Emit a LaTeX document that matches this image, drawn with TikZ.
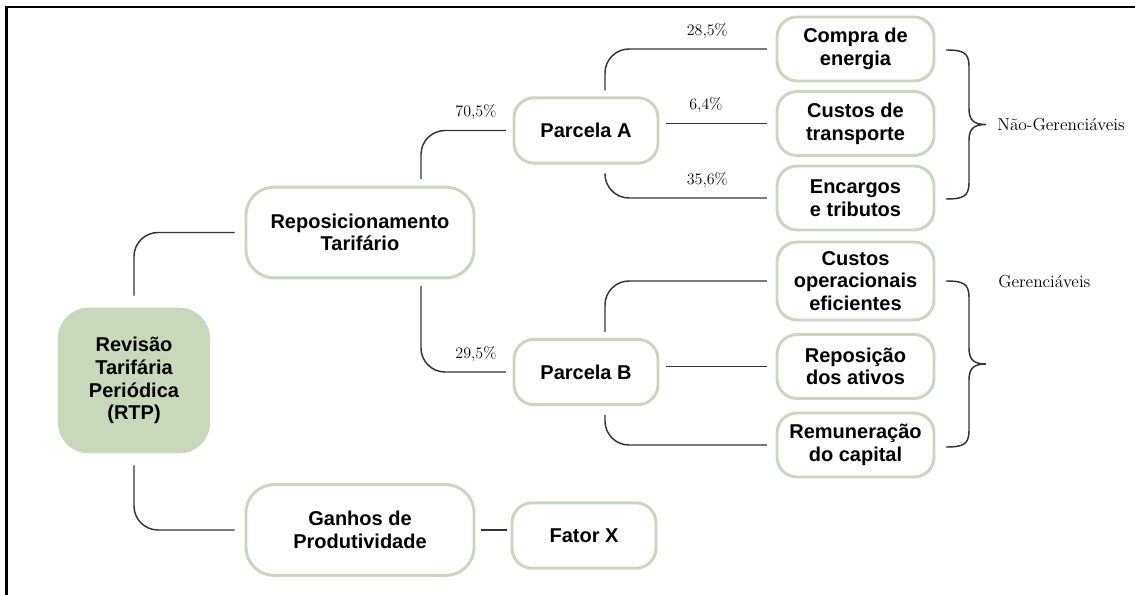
\documentclass[tikz,border=0pt]{standalone}
\usepackage{fontspec}
\newfontfamily\boxfont{Liberation Sans}
\usepackage{tikz}
\usetikzlibrary{calc}
\definecolor{boxgreen}{HTML}{C8D8BA}
\definecolor{linegray}{HTML}{333333}

\begin{document}
\begin{tikzpicture}[x=0.75pt,y=-0.75pt,
	box/.style={draw=boxgreen,line width=2.2pt,rounded corners=15pt,align=center,inner sep=2pt,
		font=\boxfont\bfseries\fontsize{15}{17}\selectfont},
	bigbox/.style={box,minimum width=171pt,minimum height=68pt,rounded corners=21pt},
	midbox/.style={box,minimum width=108pt,minimum height=49pt},
	leafbox/.style={box,minimum width=117.75pt,minimum height=48pt},
	conn/.style={draw=linegray,line width=1.1pt,rounded corners=18pt},
	pct/.style={font=\rmfamily\fontsize{12}{14}\selectfont,above=4pt},
	side/.style={font=\rmfamily\fontsize{13}{15}\selectfont,anchor=west,inner sep=0pt}]
		\useasboundingbox (0,0) rectangle (1135,595);
		\draw[line width=1.6pt] (6.5,595) -- (6.5,7) -- (1135,7);
		
		\node[box,fill=boxgreen,minimum width=112pt,minimum height=107pt,rounded corners=22pt] (rtp) at (134,380.5) {Revisão\\Tarifária\\Periódica\\(RTP)};
		\node[bigbox] (repos) at (360,232.5) {Reposicionamento\\Tarifário};
		\node[bigbox] (ganhos) at (360,530) {Ganhos de\\Produtividade};
		\node[midbox] (parA) at (586,130.5) {Parcela A};
		\node[midbox] (parB) at (586,372) {Parcela B};
		\node[midbox] (fator) at (584,535.5) {Fator X};
		\node[leafbox] (compra) at (855.5,49) {Compra de\\energia};
		\node[leafbox] (transp) at (855.5,123.5) {Custos de\\transporte};
		\node[leafbox] (encargos) at (855.5,198) {Encargos\\e tributos};
		\node[leafbox,minimum height=58.5pt] (custop) at (855.5,281) {Custos\\operacionais\\eficientes};
		\node[leafbox] (repativ) at (855.5,366.5) {Reposição\\dos ativos};
		\node[leafbox] (remun) at (855.5,445) {Remuneração\\do capital};
		
		\draw[conn,shorten <=9pt,shorten >=7.5pt] (rtp.north) |- (repos.west);
		\draw[conn,shorten <=9pt,shorten >=7.5pt] (rtp.south) |- (ganhos.west);
		\draw[conn,shorten <=5pt,shorten >=5pt] ($(repos.north)+(61,0)$) |- node[pct,pos=0.8] {70,5\%} (parA.west);
		\draw[conn,shorten <=5pt,shorten >=5pt] ($(repos.south)+(61,0)$) |- node[pct,pos=0.8] {29,5\%} (parB.west);
		\draw[conn,shorten <=4.5pt,shorten >=6.5pt] ($(parA.north)+(19,0)$) |- node[pct,pos=0.8] {28,5\%} (compra.west);
		\draw[conn,shorten <=5pt,shorten >=6.5pt] (transp.west -| parA.east) -- node[pct,pos=0.4] {6,4\%} (transp.west);
		\draw[conn,shorten <=6.5pt,shorten >=6.5pt] ($(parA.south)+(19,0)$) |- node[pct,pos=0.8] {35,6\%} (encargos.west);
		\draw[conn,shorten <=4.5pt,shorten >=6.5pt] ($(parB.north)+(19,0)$) |- (custop.west);
		\draw[conn,shorten <=5pt,shorten >=6.5pt] (repativ.west -| parB.east) -- (repativ.west);
		\draw[conn,shorten <=6.5pt,shorten >=6.5pt] ($(parB.south)+(19,0)$) |- (remun.west);
		\draw[conn,shorten <=4.5pt,shorten >=3pt] (ganhos.east) -- (ganhos.east -| fator.west);
		
		\foreach \yt/\yb in {50/199,281/447}{
			\pgfmathsetmacro\ym{(\yt+\yb)/2}
			\draw[draw=linegray,line width=1.1pt] (946,\yt) .. controls (962,\yt) and (969,{\yt+2}) .. (969,{\yt+16})
				-- (969,{\ym-16}) .. controls (969,{\ym-4}) and (974,\ym) .. (986,\ym)
				.. controls (974,\ym) and (969,{\ym+4}) .. (969,{\ym+16})
				-- (969,{\yb-16}) .. controls (969,{\yb-2}) and (962,\yb) .. (946,\yb);
		}
		\node[side] (naoger) at (997,125) {Não-Gerenciáveis};
		\node[side] (ger) at (998,282) {Gerenciáveis};
\end{tikzpicture}
\end{document}
